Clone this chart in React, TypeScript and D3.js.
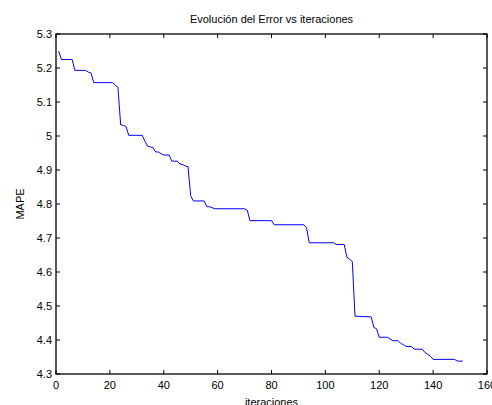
import * as d3 from "d3";
import React, { useEffect, useRef } from "react";

// key points of the error curve (iteration, MAPE)
const iterations = [
  1, 2, 6, 7, 11, 12, 13, 14, 21, 22, 23, 24, 25, 26, 27, 32, 33, 34, 35, 36,
  37, 38, 39, 40, 42, 43, 45, 46, 47, 48, 49, 50, 51, 55, 56, 57, 58, 59, 70,
  71, 72, 80, 81, 92, 93, 94, 103, 104, 107, 108, 109, 110, 111, 117, 118, 119,
  120, 123, 124, 125, 127, 128, 129, 130, 132, 133, 136, 137, 138, 139, 140,
  148, 149, 151,
];
const mape = [
  5.25, 5.225, 5.225, 5.193, 5.193, 5.188, 5.185, 5.157, 5.157, 5.15, 5.143,
  5.033, 5.031, 5.028, 5.002, 5.002, 4.985, 4.97, 4.968, 4.966, 4.953, 4.953,
  4.948, 4.944, 4.944, 4.926, 4.926, 4.918, 4.916, 4.912, 4.91, 4.824, 4.809,
  4.809, 4.792, 4.792, 4.789, 4.786, 4.786, 4.782, 4.751, 4.751, 4.739, 4.739,
  4.731, 4.686, 4.686, 4.681, 4.681, 4.643, 4.638, 4.63, 4.47, 4.468, 4.437,
  4.433, 4.408, 4.408, 4.403, 4.398, 4.398, 4.39, 4.386, 4.381, 4.381, 4.373,
  4.373, 4.363, 4.358, 4.352, 4.343, 4.343, 4.338, 4.338,
];
const xTicks = [0, 20, 40, 60, 80, 100, 120, 140, 160];
const yTicks = [4.3, 4.4, 4.5, 4.6, 4.7, 4.8, 4.9, 5, 5.1, 5.2, 5.3];

const App = () => {
  const ref = useRef<SVGSVGElement>(null);

  useEffect(() => {
    const svg = d3.select(ref.current);
    svg.selectAll("*").remove();

    const left = 56, right = 487, top = 34, bottom = 374;
    const font = "Liberation Sans, Arial, sans-serif";

    const x = d3.scaleLinear().domain([0, 160]).range([left, right]);
    const y = d3.scaleLinear().domain([4.3, 5.3]).range([bottom, top]);

    svg.append("rect")
      .attr("x", left).attr("y", top)
      .attr("width", right - left).attr("height", bottom - top)
      .attr("fill", "#fff");

    const data = iterations.map((it, i) => [it, mape[i]] as [number, number]);
    const line = d3.line().x((d) => x(d[0])).y((d) => y(d[1]));

    svg.append("path")
      .datum(data)
      .attr("d", line)
      .attr("fill", "none")
      .attr("stroke", "#0000ff")
      .attr("stroke-width", 1);

    // ticks inward on all four sides (boxed axes)
    const tickLen = 4;
    const ticks = svg.append("g").attr("stroke", "#000").attr("stroke-width", 1);
    xTicks.forEach((t) => {
      ticks.append("line").attr("x1", x(t)).attr("x2", x(t))
        .attr("y1", bottom).attr("y2", bottom - tickLen);
      ticks.append("line").attr("x1", x(t)).attr("x2", x(t))
        .attr("y1", top).attr("y2", top + tickLen);
    });
    yTicks.forEach((t) => {
      ticks.append("line").attr("x1", left).attr("x2", left + tickLen)
        .attr("y1", y(t)).attr("y2", y(t));
      ticks.append("line").attr("x1", right).attr("x2", right - tickLen)
        .attr("y1", y(t)).attr("y2", y(t));
    });

    svg.append("rect")
      .attr("x", left).attr("y", top)
      .attr("width", right - left).attr("height", bottom - top)
      .attr("fill", "none")
      .attr("stroke", "#000")
      .attr("stroke-width", 1.3);

    svg.append("g")
      .selectAll("text")
      .data(xTicks)
      .enter()
      .append("text")
      .attr("x", (d) => x(d))
      .attr("y", bottom + 15)
      .attr("text-anchor", "middle")
      .text((d) => String(d));

    svg.append("g")
      .selectAll("text")
      .data(yTicks)
      .enter()
      .append("text")
      .attr("x", left - 4)
      .attr("y", (d) => y(d) + 4)
      .attr("text-anchor", "end")
      .text((d) => String(d));

    svg.append("text")
      .attr("x", (left + right) / 2)
      .attr("y", 23)
      .attr("text-anchor", "middle")
      .text("Evolución del Error vs iteraciones");

    svg.append("text")
      .attr("x", (left + right) / 2)
      .attr("y", 406)
      .attr("text-anchor", "middle")
      .text("iteraciones");

    svg.append("text")
      .attr("transform", `translate(24,${(top + bottom) / 2}) rotate(-90)`)
      .attr("text-anchor", "middle")
      .text("MAPE");

    svg.selectAll("text")
      .attr("font-family", font)
      .attr("font-size", 11)
      .attr("fill", "#000");
  }, []);

  return (
    <svg
      ref={ref}
      width={492}
      height={405}
      style={{ position: "absolute", left: 0, top: 0, background: "#fff" }}
    />
  );
};

export default App;
